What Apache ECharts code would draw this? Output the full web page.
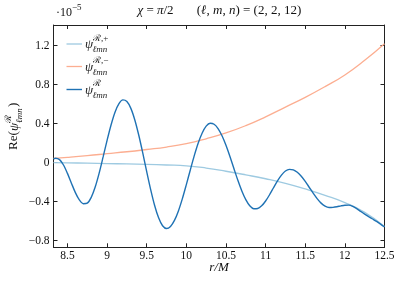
<!DOCTYPE html>
<html><head><meta charset="utf-8">
<script src="https://cdn.jsdelivr.net/npm/echarts@6/dist/echarts.min.js"></script>
<style>html,body{margin:0;padding:0;background:#fff}#c{width:399px;height:281px}</style>
</head><body><div id="c"></div>
<script>
// r/M values and Re(psi) in units of 1e-5
const rPlus = [8.324, 8.5, 8.75, 9.0, 9.25, 9.5, 9.75, 10.0, 10.25, 10.5, 10.75, 11.0, 11.25, 11.5, 11.75, 12.0, 12.25, 12.5];
const psiPlus = [0.0, -0.002, -0.005, -0.009, -0.013, -0.018, -0.024, -0.032, -0.055, -0.088, -0.125, -0.165, -0.212, -0.27, -0.335, -0.41, -0.51, -0.655];
const rMinus = [8.324, 8.5, 8.75, 9.0, 9.25, 9.5, 9.75, 10.0, 10.25, 10.5, 10.75, 11.0, 11.25, 11.5, 11.75, 12.0, 12.25, 12.5];
const psiMinus = [0.045, 0.055, 0.072, 0.092, 0.112, 0.135, 0.16, 0.195, 0.245, 0.305, 0.38, 0.47, 0.57, 0.67, 0.78, 0.9, 1.05, 1.22];
const rPsi = [8.324, 8.35, 8.40, 8.45, 8.50, 8.55, 8.60, 8.65, 8.70, 8.75, 8.80, 8.85, 8.90, 8.95, 9.00, 9.05, 9.10, 9.15, 9.20, 9.25, 9.30, 9.35, 9.40, 9.45, 9.50, 9.55, 9.60, 9.65, 9.70, 9.75, 9.80, 9.85, 9.90, 9.95, 10.00, 10.05, 10.10, 10.15, 10.20, 10.25, 10.30, 10.35, 10.40, 10.45, 10.50, 10.55, 10.60, 10.65, 10.70, 10.75, 10.80, 10.85, 10.90, 10.95, 11.00, 11.05, 11.10, 11.15, 11.20, 11.25, 11.30, 11.35, 11.40, 11.45, 11.50, 11.55, 11.60, 11.65, 11.70, 11.75, 11.80, 11.85, 11.90, 11.95, 12.00, 12.05, 12.10, 12.15, 12.20, 12.25, 12.30, 12.35, 12.40, 12.45, 12.50];
const psi = [0.038, 0.045, 0.031, -0.024, -0.110, -0.210, -0.307, -0.382, -0.421, -0.415, -0.356, -0.250, -0.107, 0.059, 0.229, 0.387, 0.518, 0.606, 0.644, 0.627, 0.557, 0.438, 0.281, 0.100, -0.092, -0.276, -0.439, -0.566, -0.647, -0.675, -0.654, -0.592, -0.495, -0.369, -0.225, -0.075, 0.072, 0.202, 0.305, 0.375, 0.404, 0.394, 0.350, 0.276, 0.178, 0.063, -0.060, -0.181, -0.290, -0.379, -0.442, -0.472, -0.470, -0.443, -0.393, -0.329, -0.257, -0.187, -0.128, -0.086, -0.069, -0.074, -0.099, -0.139, -0.192, -0.252, -0.313, -0.369, -0.415, -0.446, -0.460, -0.458, -0.452, -0.443, -0.436, -0.435, -0.448, -0.472, -0.500, -0.527, -0.553, -0.578, -0.603, -0.630, -0.660];
const xTicks = [8.5, 9, 9.5, 10, 10.5, 11, 11.5, 12, 12.5];
const yTicks = [-0.8, -0.4, 0, 0.4, 0.8, 1.2];
const names = ['psiPlus', 'psiMinus', 'psi'];

const SERIF = '"Liberation Serif","DejaVu Serif",serif';
const cPlus = '#9ecae1', cMinus = '#fcae91', cPsi = '#1f72b4';
const axColor = '#222';
const zip = (a, b) => a.map((v, i) => [v, b[i]]);
const yFmt = v => v === 0 ? '0' : (v < 0 ? '\u2212' : '') + String(Math.abs(v));

function axisX(pos, labels) {
  return {
    type: 'value', position: pos, min: 8.324, max: 12.5,
    axisLine: {show: true, onZero: false, lineStyle: {color: axColor, width: 1}},
    axisTick: {show: true, inside: true, length: 4, customValues: xTicks, lineStyle: {color: axColor}},
    axisLabel: {show: labels, customValues: xTicks, margin: 3, color: '#111', fontFamily: SERIF, fontSize: 11.5, formatter: v => String(v)},
    splitLine: {show: false}
  };
}
function axisY(pos, labels) {
  return {
    type: 'value', position: pos, min: -0.868, max: 1.412,
    axisLine: {show: true, onZero: false, lineStyle: {color: axColor, width: 1}},
    axisTick: {show: true, inside: true, length: 4, customValues: yTicks, lineStyle: {color: axColor}},
    axisLabel: {show: labels, customValues: yTicks, margin: 4, color: '#111', fontFamily: SERIF, fontSize: 11.5, formatter: yFmt},
    splitLine: {show: false}
  };
}

function legendRow(y, color, sup, w) {
  return [
    {type: 'line', shape: {x1: 66.5, y1: y, x2: 82, y2: y}, style: {stroke: color, lineWidth: w}},
    {type: 'text', x: 85, y: y + 1, style: {text: '\u03c8', font: 'italic 13px ' + SERIF, fill: '#222', verticalAlign: 'middle'}},
    {type: 'text', x: 93, y: y - 5.5, style: {text: sup, font: '9px ' + SERIF, fill: '#222', verticalAlign: 'middle'}},
    {type: 'text', x: 92.5, y: y + 6, style: {text: '\u2113mn', font: 'italic 9px ' + SERIF, fill: '#222', verticalAlign: 'middle'}}
  ];
}

const chart = echarts.init(document.getElementById('c'), null, {renderer: 'canvas'});
chart.setOption({
  animation: false,
  backgroundColor: '#fff',
  grid: {left: 53.5, right: 14.5, top: 25, bottom: 33.7, containLabel: false},
  xAxis: [axisX('bottom', true), axisX('top', false)],
  yAxis: [axisY('left', true), axisY('right', false)],
  series: [
    {name: names[0], type: 'line', data: zip(rPlus, psiPlus), showSymbol: false, smooth: true, lineStyle: {color: cPlus, width: 1.3}, itemStyle: {color: cPlus}},
    {name: names[1], type: 'line', data: zip(rMinus, psiMinus), showSymbol: false, smooth: true, lineStyle: {color: cMinus, width: 1.3}, itemStyle: {color: cMinus}},
    {name: names[2], type: 'line', data: zip(rPsi, psi), showSymbol: false, smooth: 0.3, lineStyle: {color: cPsi, width: 1.4}, itemStyle: {color: cPsi}}
  ],
  graphic: [
    // title
    {type: 'text', x: 155.5, y: 11, style: {
      text: '{i|\u03c7} = {i|\u03c0}/2',
      font: '13px ' + SERIF, fill: '#111', align: 'center', verticalAlign: 'middle',
      rich: {i: {fontStyle: 'italic', fontFamily: SERIF, fontSize: 13}}
    }},
    {type: 'text', x: 249, y: 11, style: {
      text: '({i|\u2113}, {i|m}, {i|n}) = (2, 2, 12)',
      font: '13px ' + SERIF, fill: '#111', align: 'center', verticalAlign: 'middle',
      rich: {i: {fontStyle: 'italic', fontFamily: SERIF, fontSize: 13}}
    }},
    // scale factor
    {type: 'text', x: 56, y: 13, style: {text: '\u00b710', font: '12px ' + SERIF, fill: '#111', verticalAlign: 'middle'}},
    {type: 'text', x: 72, y: 8, style: {text: '\u22125', font: '9px ' + SERIF, fill: '#111', verticalAlign: 'middle'}},
    // x axis name
    {type: 'text', x: 219, y: 268, style: {text: 'r/M', font: 'italic 13px ' + SERIF, fill: '#111', align: 'center', verticalAlign: 'middle'}},
    // y axis name (rotated)
    {type: 'group', x: 14, y: 126, rotation: Math.PI / 2, children: [
      {type: 'text', x: -24, y: 0, style: {text: 'Re(', font: '13px ' + SERIF, fill: '#111', verticalAlign: 'middle'}},
      {type: 'text', x: -5, y: 1, style: {text: '\u03c8', font: 'italic 13px ' + SERIF, fill: '#111', verticalAlign: 'middle'}},
      {type: 'text', x: 3.5, y: -5.5, style: {text: '\u211b', font: '9px ' + SERIF, fill: '#111', verticalAlign: 'middle'}},
      {type: 'text', x: 3, y: 5.5, style: {text: '\u2113mn', font: 'italic 9px ' + SERIF, fill: '#111', verticalAlign: 'middle'}},
      {type: 'text', x: 19, y: 0, style: {text: ')', font: '13px ' + SERIF, fill: '#111', verticalAlign: 'middle'}}
    ]},
    // legend
    ...legendRow(44, cPlus, '\u211b,+', 1.3),
    ...legendRow(66.5, cMinus, '\u211b,\u2212', 1.3),
    ...legendRow(89.5, cPsi, '\u211b', 1.4)
  ]
});
</script>
</body></html>
